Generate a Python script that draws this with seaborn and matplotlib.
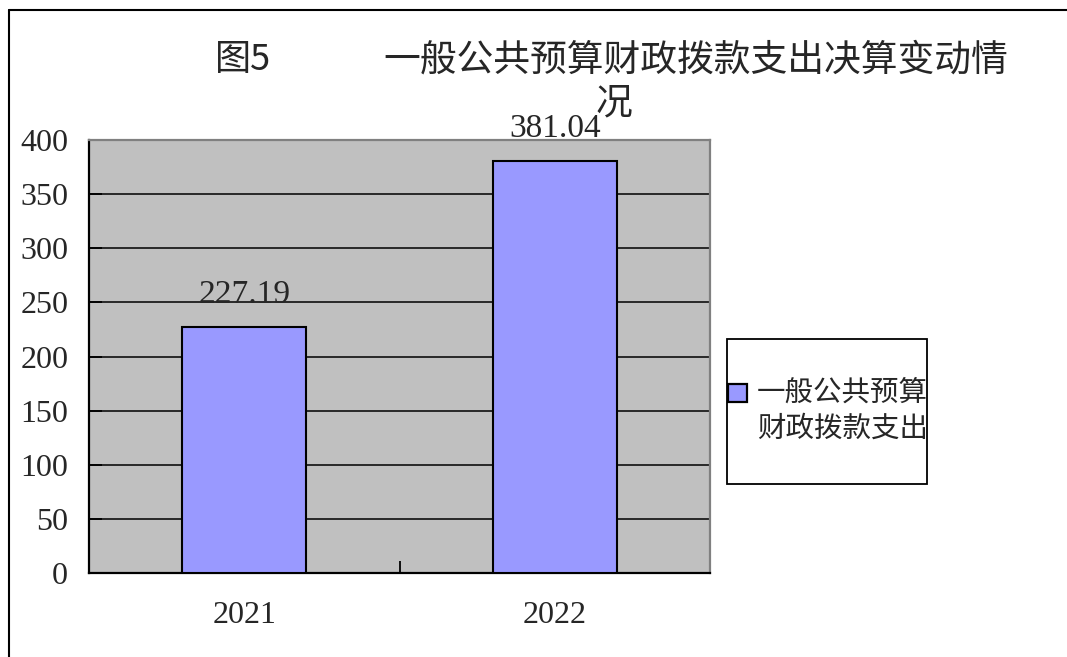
import matplotlib
matplotlib.use("Agg")
import matplotlib.pyplot as plt
import seaborn as sns
import pandas as pd
from matplotlib.lines import Line2D
from matplotlib.patches import Rectangle

sns.set_theme(style="white")
plt.rcParams["font.family"] = ["Liberation Serif", "Noto Sans CJK SC", "DejaVu Sans"]

CJK = ["Noto Sans CJK SC", "DejaVu Sans"]

years = ["2021", "2022"]
values = [227.19, 381.04]
value_labels = ["227.19", "381.04"]
y_ticks = [0, 50, 100, 150, 200, 250, 300, 350, 400]
series_name = "一般公共预算\n财政拨款支出"
title_prefix = "图5"
title_line1 = "一般公共预算财政拨款支出决算变动情"
title_line2 = "况"

BAR_COLOR = "#9999FF"
BG_COLOR = "#C0C0C0"

df = pd.DataFrame({"year": years, "value": values})

fig = plt.figure(figsize=(10.67, 6.57), dpi=100)
ax = fig.add_axes([89 / 1067, 1 - 573 / 657, 621 / 1067, 433 / 657])
ax.set_facecolor(BG_COLOR)

ax.set_axisbelow(True)
ax.yaxis.grid(True, color="black", linewidth=1.1)
ax.xaxis.grid(False)

sns.barplot(data=df, x="year", y="value", color=BAR_COLOR, saturation=1,
            width=0.4, edgecolor="black", linewidth=1.5, ax=ax, zorder=3)

ax.bar_label(ax.containers[0], labels=value_labels, padding=12, fontsize=24,
             family="Liberation Serif")

ax.set_xlim(-0.5, 1.5)
ax.set_ylim(0, 400)
ax.set_yticks(y_ticks)
ax.set_xlabel("")
ax.set_ylabel("")

ax.tick_params(axis="y", direction="in", length=9, width=1.3, color="black",
               labelsize=23, pad=15, left=True)
ax.tick_params(axis="x", which="major", length=0, labelsize=23, pad=20)
ax.set_xticks([-0.5, 0.5, 1.5], minor=True)
ax.tick_params(axis="x", which="minor", direction="in", length=9, width=1.3,
               color="black", bottom=True)

for side in ["left", "bottom"]:
    ax.spines[side].set_color("black")
    ax.spines[side].set_linewidth(1.6)
for side in ["top", "right"]:
    ax.spines[side].set_color("#808080")
    ax.spines[side].set_linewidth(1.6)

# title
fig.text(215 / 1067, 1 - 60 / 657, title_prefix, fontsize=26, family=CJK,
         ha="left", va="center")
fig.text(383 / 1067, 1 - 60 / 657, title_line1, fontsize=26.5, family=CJK,
         ha="left", va="center")
fig.text(614 / 1067, 1 - 103 / 657, title_line2, fontsize=26.5, family=CJK,
         ha="center", va="center")

# legend box
fig.add_artist(Rectangle((727 / 1067, 1 - 484 / 657), 200 / 1067, 145 / 657,
                         transform=fig.transFigure, facecolor="white",
                         edgecolor="black", linewidth=1.3))
fig.add_artist(Rectangle((728 / 1067, 1 - 402 / 657), 19 / 1067, 18 / 657,
                         transform=fig.transFigure, facecolor=BAR_COLOR,
                         edgecolor="black", linewidth=1.6))
fig.text(757 / 1067, 1 - 411 / 657, series_name, fontsize=20.5, family=CJK,
         ha="left", va="center", linespacing=1.25)

# outer frame
fig.add_artist(Line2D([9 / 1067, 9 / 1067], [0, 1 - 10 / 657],
                      transform=fig.transFigure, color="black", linewidth=1.5))
fig.add_artist(Line2D([9 / 1067, 1], [1 - 10 / 657, 1 - 10 / 657],
                      transform=fig.transFigure, color="black", linewidth=1.5))

fig.savefig("out.png", dpi=100, facecolor="white")
